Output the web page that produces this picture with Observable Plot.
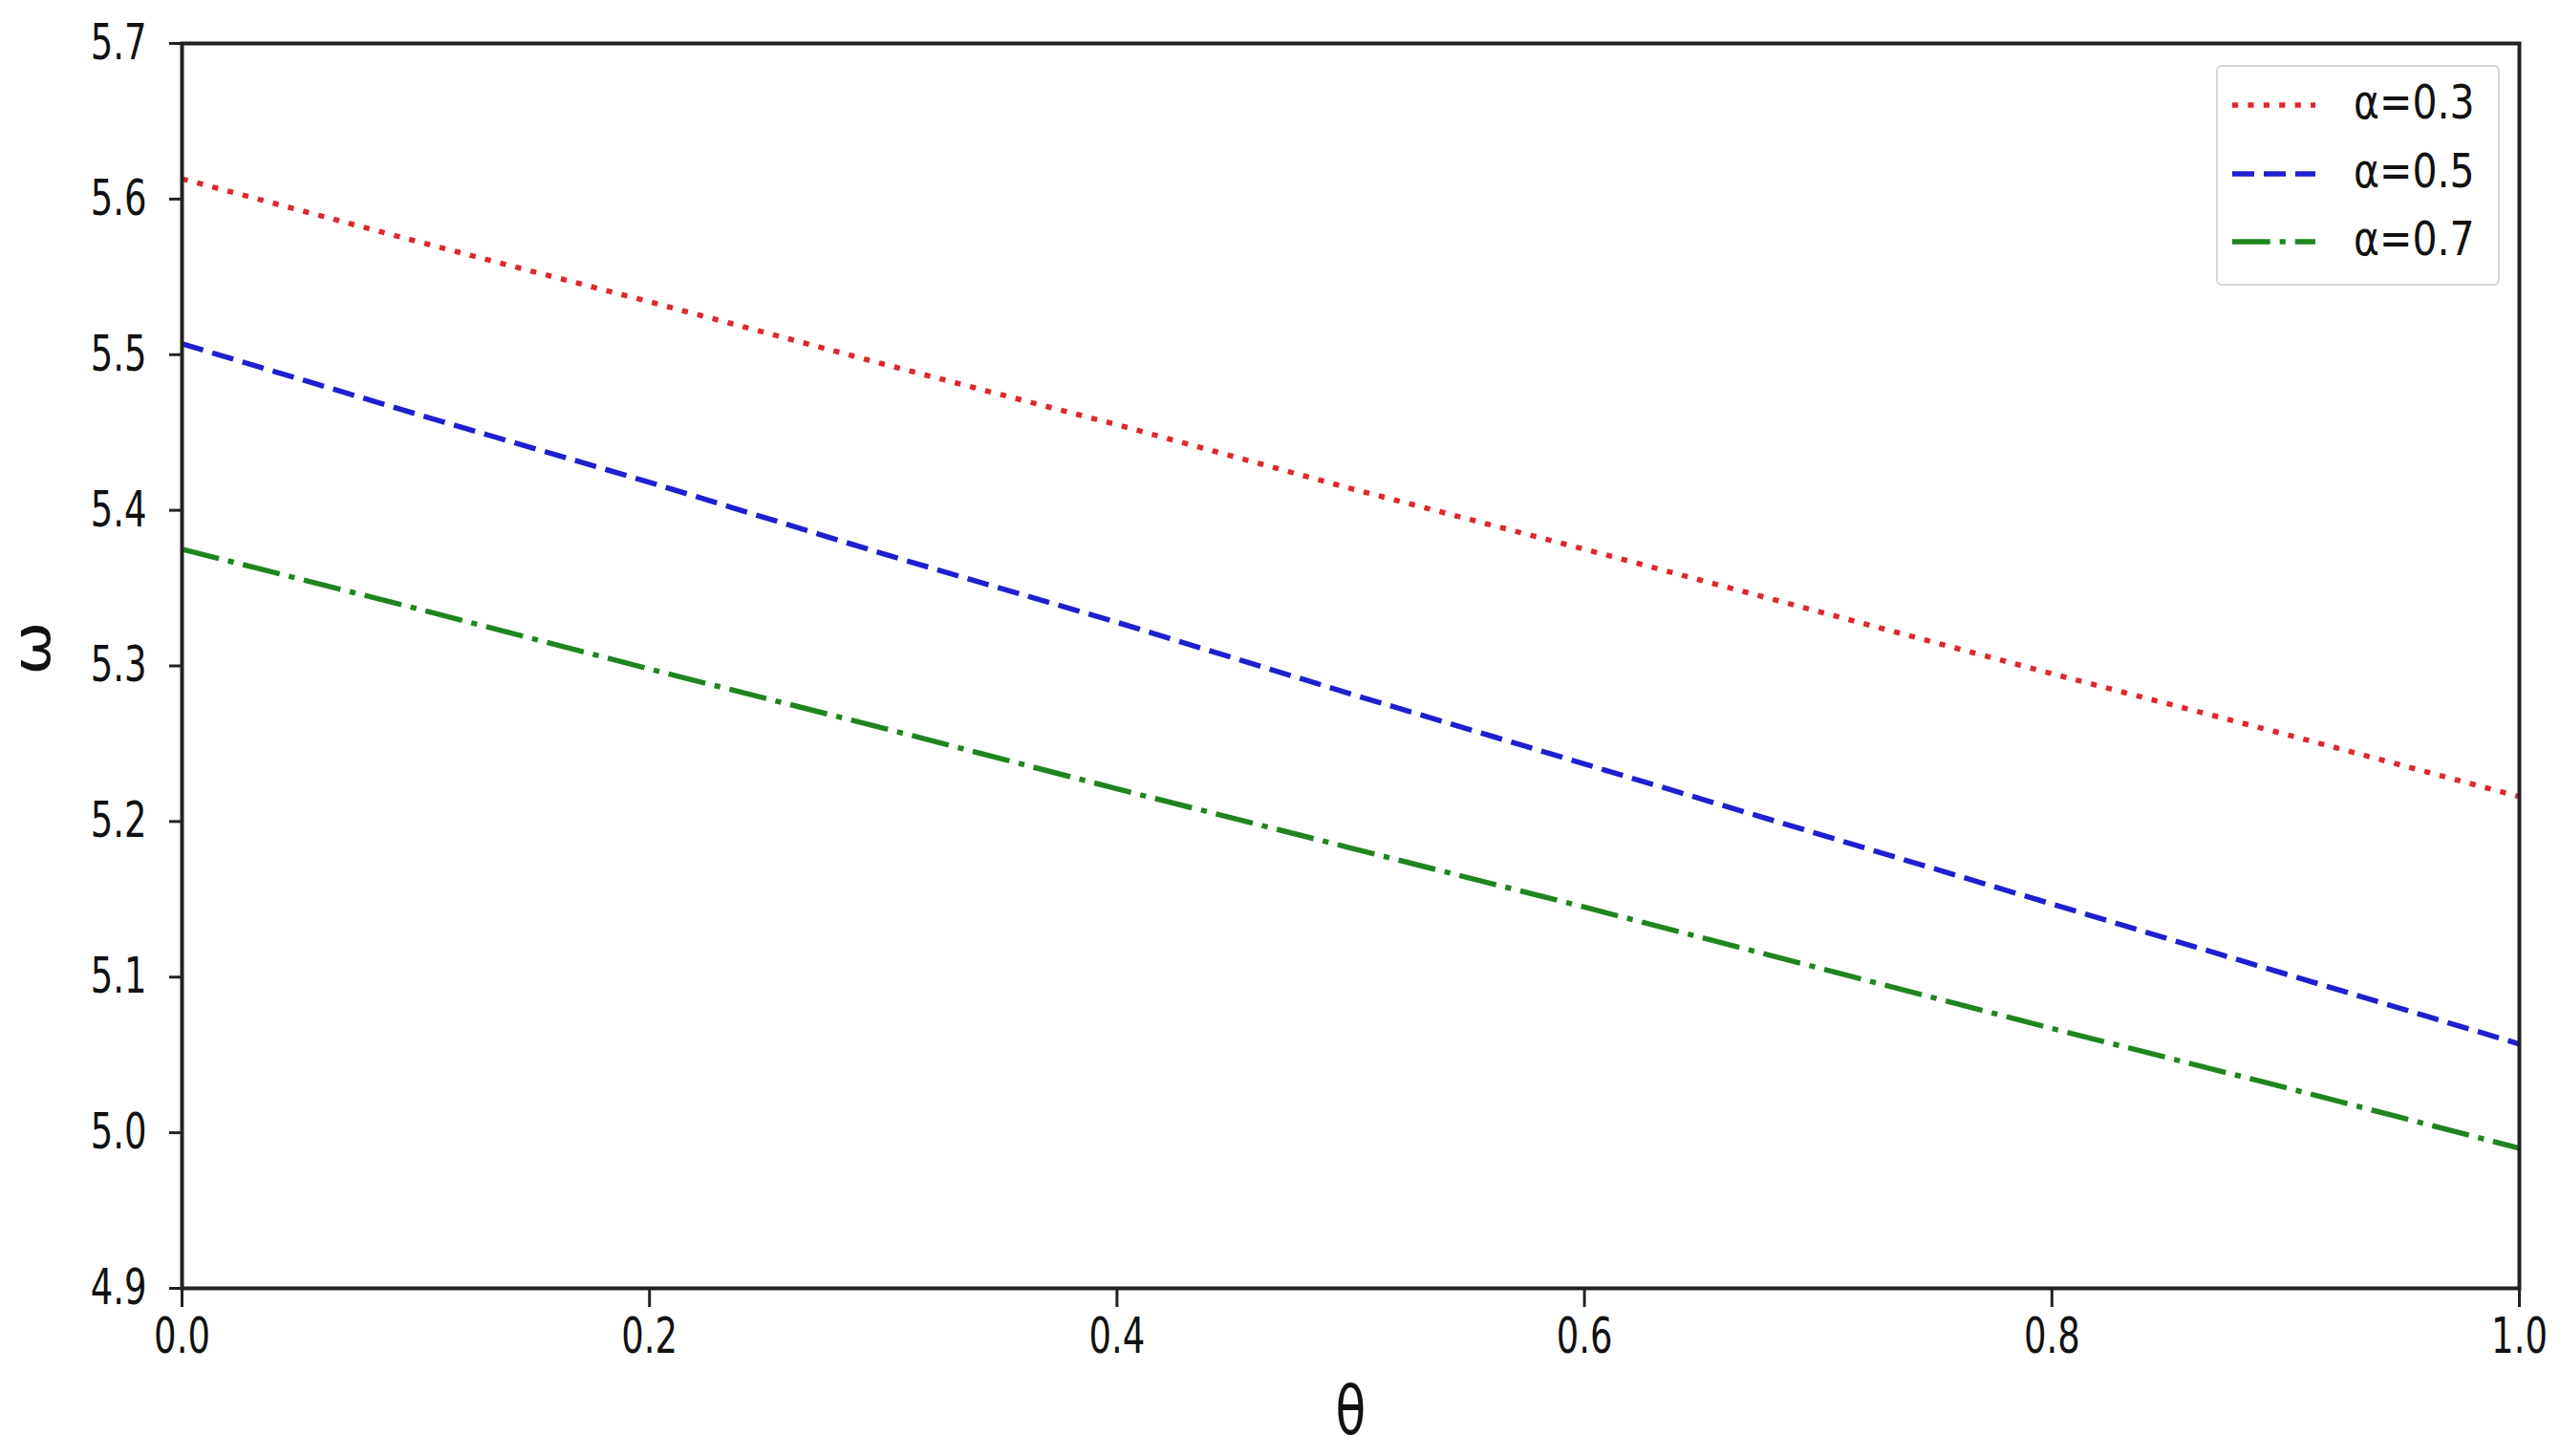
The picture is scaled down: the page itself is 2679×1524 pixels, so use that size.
<!DOCTYPE html>
<html>
<head>
<meta charset="utf-8">
<script src="https://cdn.jsdelivr.net/npm/d3@7"></script>
<script src="https://cdn.jsdelivr.net/npm/@observablehq/plot@0.6"></script>
<style>
html, body { margin: 0; padding: 0; background: #fff; }
#wrap { position: relative; width: 2679px; height: 1524px; overflow: hidden; font-family: "DejaVu Sans", sans-serif; }
#wrap > svg { position: absolute; left: 0; top: 0; }
#legend { position: absolute; left: 2319px; top: 68px; width: 293px; height: 227px; border: 2px solid #d6d6d6; border-radius: 6px; background: #fff; }
.row { position: absolute; left: 0; width: 100%; height: 50px; }
.row svg { position: absolute; left: 15px; top: 15px; }
.row span { position: absolute; left: 142px; top: -3px; line-height: 50px; font-size: 41px; color: #111; transform: scaleY(1.23); transform-origin: 50% 50%; white-space: nowrap; }
</style>
</head>
<body>
<div id="wrap"><div id="legend"></div></div>
<script>
// ---- data ----
const theta = [0.0, 0.1, 0.2, 0.3, 0.4, 0.5, 0.6, 0.7, 0.8, 0.9, 1.0];
const omegaAlpha03 = [5.613, 5.573, 5.534, 5.494, 5.455, 5.414, 5.375, 5.335, 5.295, 5.256, 5.216];
const omegaAlpha05 = [5.507, 5.462, 5.418, 5.372, 5.328, 5.282, 5.237, 5.192, 5.147, 5.102, 5.057];
const omegaAlpha07 = [5.375, 5.337, 5.298, 5.260, 5.221, 5.183, 5.145, 5.106, 5.067, 5.029, 4.990];
const seriesLabels = ["α=0.3", "α=0.5", "α=0.7"];
const xTicks = [0.0, 0.2, 0.4, 0.6, 0.8, 1.0];
const yTicks = [4.9, 5.0, 5.1, 5.2, 5.3, 5.4, 5.5, 5.6, 5.7];
const xLabel = "θ";
const yLabel = "ω";

// ---- styles ----
const seriesColors = ["#e0262e", "#1f1fd0", "#1f851f"];
const seriesDash = ["6.2,10.2", "23,10", "39.7,9.9,6.2,9.9"];
const seriesValues = [omegaAlpha03, omegaAlpha05, omegaAlpha07];
const K = 1.37; // vertical stretch of the text in the reference

const chart = Plot.plot({
  width: 2679,
  height: 1524,
  marginLeft: 190,
  marginRight: 43,
  marginTop: 45,
  marginBottom: 176,
  x: {domain: [0, 1]},
  y: {domain: [4.9, 5.7]},
  style: {fontFamily: "DejaVu Sans", background: "white", color: "#111", overflow: "visible"},
  marks: [
    Plot.axisX({ticks: xTicks, tickFormat: ".1f", tickSize: 20, tickPadding: 17, fontSize: 37, strokeWidth: 3, stroke: "#222", label: null}),
    Plot.axisY({ticks: yTicks, tickFormat: ".1f", tickSize: 13, tickPadding: 24, fontSize: 37, strokeWidth: 3, stroke: "#222", label: null}),
    ...seriesValues.map((vals, i) => Plot.line(vals, {
      x: theta, y: d => d,
      stroke: seriesColors[i], strokeWidth: 5.5, strokeDasharray: seriesDash[i], strokeLinecap: "butt"
    })),
    Plot.frame({stroke: "#222", strokeWidth: 4}),
    Plot.text([xLabel], {frameAnchor: "bottom", dy: 129, fontSize: 52, lineAnchor: "middle", fill: "#111"}),
    Plot.text([yLabel], {frameAnchor: "left", dx: -156, dy: 5, rotate: -90, fontSize: 56, lineAnchor: "middle", fill: "#111"})
  ]
});

const wrap = document.getElementById("wrap");
wrap.prepend(chart);

// stretch texts vertically like the reference
chart.querySelectorAll("text").forEach(t => {
  const b = t.getBBox();
  const tr = t.getAttribute("transform") || "";
  if (t.textContent === yLabel) {
    const cx = b.x + b.width / 2;
    t.setAttribute("transform", `${tr} translate(${cx},0) scale(1.2,1) translate(${-cx},0)`);
  } else {
    const cy = b.y + b.height / 2;
    t.setAttribute("transform", `${tr} translate(0,${cy}) scale(1,${K}) translate(0,${-cy})`);
  }
});

// legend (inside the axes, upper right)
const legend = d3.select("#legend");
const rowTops = [15, 87, 158];
seriesLabels.forEach((lab, i) => {
  const row = legend.append("div").attr("class", "row").style("top", rowTops[i] + "px");
  const sw = row.append("svg").attr("width", 87).attr("height", 20);
  sw.append("line").attr("x1", 0).attr("x2", 87).attr("y1", 10).attr("y2", 10)
    .attr("stroke", seriesColors[i]).attr("stroke-width", 5.5).attr("stroke-dasharray", seriesDash[i]);
  row.append("span").text(lab);
});
</script>
</body>
</html>
